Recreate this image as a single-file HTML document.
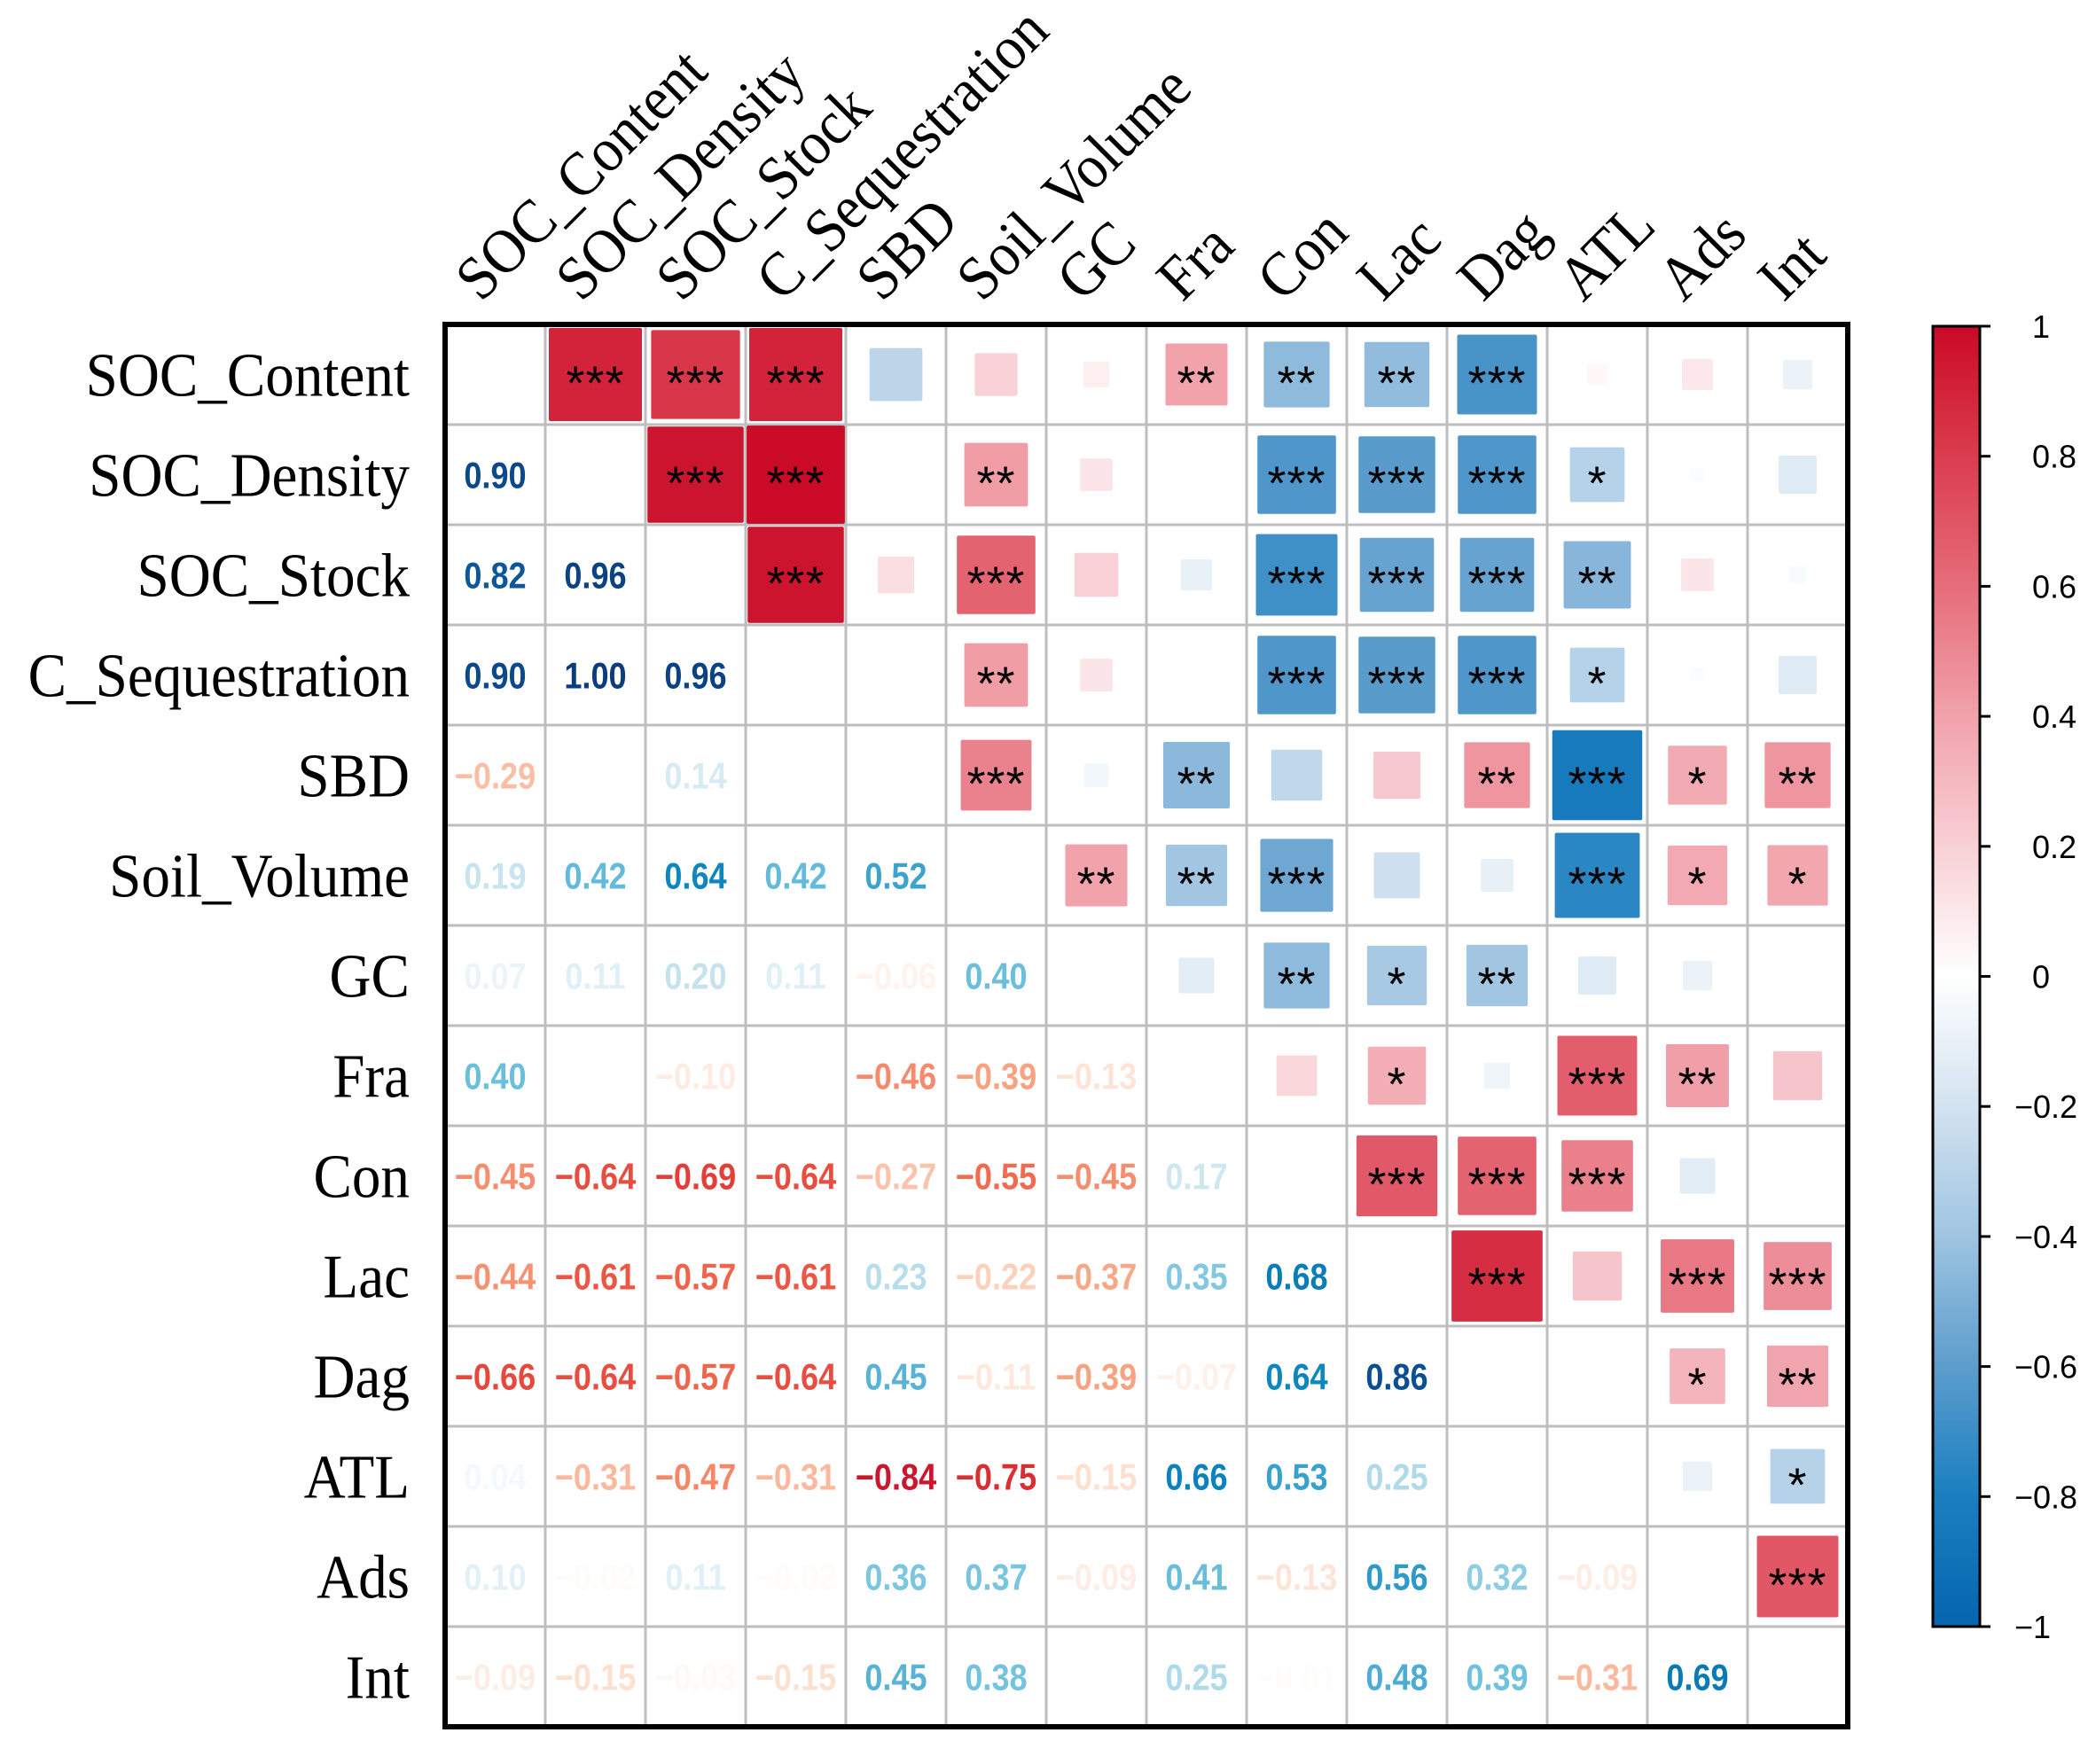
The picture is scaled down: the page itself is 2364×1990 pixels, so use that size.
<!DOCTYPE html>
<html><head><meta charset="utf-8"><style>
html,body{margin:0;padding:0;background:#fff;}
svg{display:block;}
</style></head><body>
<svg id="chart" width="2364" height="1990" viewBox="0 0 2364 1990" xmlns="http://www.w3.org/2000/svg"></svg>
<script>
const variables = ["SOC_Content","SOC_Density","SOC_Stock","C_Sequestration","SBD","Soil_Volume","GC","Fra","Con","Lac","Dag","ATL","Ads","Int"];
const lowerValues = [
  [],
  [0.90],
  [0.82,0.96],
  [0.90,1.00,0.96],
  [-0.29,0.00,0.14,0.00],
  [0.19,0.42,0.64,0.42,0.52],
  [0.07,0.11,0.20,0.11,-0.06,0.40],
  [0.40,0.00,-0.10,0.00,-0.46,-0.39,-0.13],
  [-0.45,-0.64,-0.69,-0.64,-0.27,-0.55,-0.45,0.17],
  [-0.44,-0.61,-0.57,-0.61,0.23,-0.22,-0.37,0.35,0.68],
  [-0.66,-0.64,-0.57,-0.64,0.45,-0.11,-0.39,-0.07,0.64,0.86],
  [0.04,-0.31,-0.47,-0.31,-0.84,-0.75,-0.15,0.66,0.53,0.25,0.00],
  [0.10,-0.02,0.11,-0.02,0.36,0.37,-0.09,0.41,-0.13,0.56,0.32,-0.09],
  [-0.09,-0.15,-0.03,-0.15,0.45,0.38,0.00,0.25,-0.01,0.48,0.39,-0.31,0.69]
];
const significance = [
  ["***","***","***","","","","**","**","**","***","","",""],
  ["***","***","","**","","","***","***","***","*","",""],
  ["***","","***","","","***","***","***","**","",""],
  ["","**","","","***","***","***","*","",""],
  ["***","","**","","","**","***","*","**"],
  ["**","**","***","","","***","*","*"],
  ["","**","*","**","","",""],
  ["","*","","***","**",""],
  ["***","***","***","",""],
  ["***","","***","***"],
  ["","*","**"],
  ["","*"],
  ["***"]
];
const colorbarTicks = [1,0.8,0.6,0.4,0.2,0,-0.2,-0.4,-0.6,-0.8,-1];

const NS="http://www.w3.org/2000/svg";
const svg=document.getElementById('chart');
const X0=502, Y0=366, CELL=113, N=variables.length;
const cx=j=>X0+CELL*(j+0.5), cy=i=>Y0+CELL*(i+0.5);
function mk(tag,attrs){const e=document.createElementNS(NS,tag);for(const k in attrs)e.setAttribute(k,attrs[k]);svg.appendChild(e);return e;}
function hex(h){return [parseInt(h.slice(1,3),16),parseInt(h.slice(3,5),16),parseInt(h.slice(5,7),16)];}
function interp(stops,v){
  v=Math.max(-1,Math.min(1,v));
  for(let k=0;k<stops.length-1;k++){const a=stops[k],b=stops[k+1];
    if(v>=a[0]&&v<=b[0]){const t=(v-a[0])/(b[0]-a[0]||1);const A=hex(a[1]),B=hex(b[1]);
      return 'rgb('+A.map((c,i)=>Math.round(c+(B[i]-c)*t)).join(',')+')';}}
  return stops[stops.length-1][1];
}
function squeeze(t,factor){
  const w=t.getComputedTextLength();
  if(w>0){t.setAttribute('textLength',w*factor);t.setAttribute('lengthAdjust','spacingAndGlyphs');}
}
const sqStops=[[-1,"#0565af"],[-0.8,"#1a7fbf"],[-0.6,"#5c9dcd"],[-0.4,"#9fc4e1"],[-0.2,"#d3e3f0"],[0,"#ffffff"],[0.2,"#f8d0d5"],[0.4,"#f1a2ab"],[0.6,"#e66d7a"],[0.8,"#da3c4e"],[1,"#ca0a26"]];
const txtStops=[[-1,"#a50f25"],[-0.85,"#c8142c"],[-0.7,"#e23b35"],[-0.55,"#f26a50"],[-0.4,"#f7a07f"],[-0.2,"#fdd6c2"],[0,"#ffffff"],[0.2,"#c5e3ef"],[0.4,"#6bbfdc"],[0.65,"#0a85c0"],[0.85,"#0b4f92"],[1,"#0b3d7d"]];
const val=(i,j)=> i>j ? lowerValues[i][j] : lowerValues[j][i];

for(let k=1;k<N;k++){
  const l1=mk('line',{x1:X0+CELL*k,y1:Y0,x2:X0+CELL*k,y2:Y0+CELL*N,stroke:'#bebebe','stroke-width':3});
  
  
  const l2=mk('line',{x1:X0,y1:Y0+CELL*k,x2:X0+CELL*N,y2:Y0+CELL*k,stroke:'#bebebe','stroke-width':3});
  
  
}

for(let i=0;i<N;i++)for(let j=i+1;j<N;j++){
  const v=val(i,j);
  const s=Math.sqrt(Math.abs(v))*CELL*0.98;
  if(s>0.5){
    const r=mk('rect',{x:cx(j)-s/2,y:cy(i)-s/2,width:s,height:s,fill:interp(sqStops,v),rx:2});
    
    
  }
  const st=significance[i][j-i-1];
  if(st){
    const t=mk('text',{x:cx(j),y:cy(i)+28,'text-anchor':'middle','font-family':'Liberation Sans, sans-serif','font-size':54,'letter-spacing':1,fill:'#000'});
    t.textContent=st;
    
    
  }
}
for(let i=0;i<N;i++)for(let j=0;j<i;j++){
  const v=lowerValues[i][j];
  const t=mk('text',{x:cx(j),y:cy(i)+15,'text-anchor':'middle','font-family':'Liberation Sans, sans-serif','font-weight':'bold','font-size':42,fill:interp(txtStops,v)});
  t.textContent=(v<0?'\u2212':'')+Math.abs(v).toFixed(2);
  
  
  squeeze(t,0.86);
}
const b=mk('rect',{x:X0,y:Y0,width:CELL*N,height:CELL*N,fill:'none',stroke:'#000','stroke-width':6});



variables.forEach((name,i)=>{
  const t=mk('text',{x:462,y:cy(i)+24,'text-anchor':'end','font-family':'Liberation Serif, serif','font-size':70,fill:'#000'});
  t.textContent=name;
  
  
  squeeze(t,0.93);
  const c=mk('text',{x:0,y:0,'font-family':'Liberation Serif, serif','font-size':70,fill:'#000',transform:'translate('+(cx(i)-16)+',342) rotate(-45)'});
  c.textContent=name;
  
  
  squeeze(c,0.93);
});

const CB_X=2180, CB_W=53, CB_TOP=368, CB_BOT=1835;
const cbY=v=>CB_TOP+(1-v)/2*(CB_BOT-CB_TOP);
const defs=mk('defs',{});
const g=document.createElementNS(NS,'linearGradient');
g.setAttribute('id','cbg');g.setAttribute('x1','0');g.setAttribute('y1','0');g.setAttribute('x2','0');g.setAttribute('y2','1');
defs.appendChild(g);
sqStops.slice().reverse().forEach(s=>{const st=document.createElementNS(NS,'stop');st.setAttribute('offset',((1-s[0])/2*100)+'%');st.setAttribute('stop-color',s[1]);g.appendChild(st);});
const cb=mk('rect',{x:CB_X,y:CB_TOP,width:CB_W,height:CB_BOT-CB_TOP,fill:'url(#cbg)',stroke:'#000','stroke-width':3});


colorbarTicks.forEach(v=>{
  const y=cbY(v);
  const l=mk('line',{x1:CB_X+CB_W,y1:y,x2:CB_X+CB_W+12,y2:y,stroke:'#000','stroke-width':3});
  
  
  const t=mk('text',{x:v<0?2272:2292,y:y+13,'font-family':'Liberation Sans, sans-serif','font-size':36,fill:'#000'});
  t.textContent=v===0?'0':(v<0?'\u2212':'')+(Number.isInteger(v)?Math.abs(v):Math.abs(v).toFixed(1));
  
  
});
</script>
</body></html>
